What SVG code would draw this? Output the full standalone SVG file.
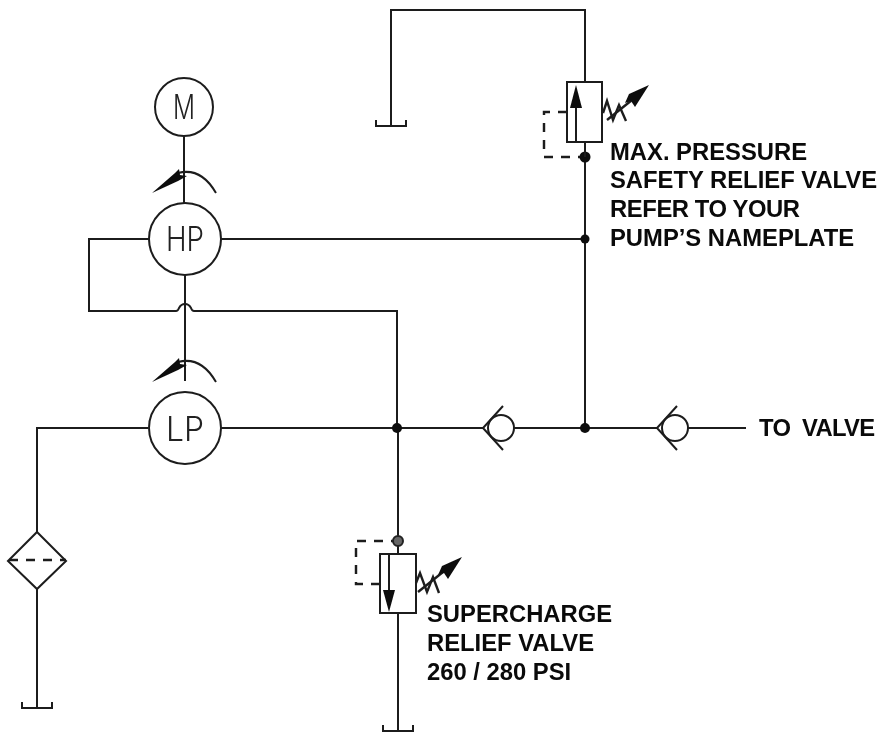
<svg xmlns="http://www.w3.org/2000/svg" width="882" height="734" viewBox="0 0 882 734">
<style>
.l{fill:none;stroke:#1c1c1c;stroke-width:2}
.z{fill:none;stroke:#1c1c1c;stroke-width:2.4}
.d{fill:none;stroke:#1c1c1c;stroke-width:2.4;stroke-dasharray:9 8}
.h{fill:#111;stroke:none}
.c{fill:#fff;stroke:#1c1c1c;stroke-width:2}
.s{font-family:"Inter","Liberation Sans",sans-serif;font-weight:300;font-size:34px;fill:#222;text-anchor:middle}
.t{font-family:"Liberation Sans",Arial,sans-serif;font-weight:700;font-size:23.8px;fill:#0a0a0a}
</style>
<defs>
<filter id="b" x="-5%" y="-5%" width="110%" height="110%"><feGaussianBlur stdDeviation="0.35"/></filter>
<g id="tank"><path class="l" d="M-15 -6V0H15V-6"/></g>
<g id="chk"><circle class="l" cx="0" cy="0" r="13"/><path class="l" d="M2 -22L-18 0L2 22"/></g>
<g id="rot"><path class="l" d="M-7 -2Q16 -8 31 18"/><path class="h" d="M-33 18L-10 -2L-6 -6L-5 0L2 1L-7 6Z"/></g>
</defs>
<g filter="url(#b)">
<g id="connectors">
<path class="l" d="M184 136V203"/>
<path class="l" d="M185 275V381"/>
<path class="l" d="M149 239H89V311H176Q178 311 179 308Q181 304 185 304Q189 304 191 308Q192 311 194 311H397V428"/>
<path class="l" d="M221 239H585"/>
<path class="l" d="M148 428H37V532"/>
<path class="l" d="M37 589V702"/>
<path class="l" d="M221 428H483"/>
<path class="l" d="M514 428H657"/>
<path class="l" d="M688 428H746"/>
<path class="l" d="M585 428V142"/>
<path class="l" d="M585 82V10H391V126"/>
<path class="l" d="M398 428V554"/>
<path class="l" d="M398 613V731"/>
</g>
<g id="motor"><circle class="c" cx="184" cy="107" r="29"/><text class="s" x="184" y="119" textLength="22" lengthAdjust="spacingAndGlyphs">M</text></g>
<g id="hp-pump"><circle class="c" cx="185" cy="239" r="36"/><text class="s" x="185" y="251" textLength="38" lengthAdjust="spacingAndGlyphs">HP</text><use href="#rot" transform="translate(185,175)"/></g>
<g id="lp-pump"><circle class="c" cx="185" cy="428" r="36"/><text class="s" x="185" y="441" textLength="38" lengthAdjust="spacingAndGlyphs">LP</text><use href="#rot" transform="translate(185,364)"/></g>
<g id="filter"><path class="c" d="M37 532L66 561L37 589L8 561Z"/><path class="d" d="M9 560H66" stroke-dasharray="13 8 17 7 12"/><use href="#tank" x="37" y="708"/><path class="l" d="M37 702V708"/></g>
<g id="check-1"><use href="#chk" transform="translate(501,428)"/></g>
<g id="check-2"><use href="#chk" transform="translate(675,428)"/></g>
<g id="junctions">
<circle class="h" cx="585" cy="239" r="4.5"/>
<circle class="h" cx="585" cy="428" r="5"/>
<circle class="h" cx="397" cy="428" r="5"/>
</g>
<g id="tank-top"><use href="#tank" x="391" y="126"/></g>
<g id="safety-valve">
<rect class="l" x="567" y="82" width="35" height="60"/>
<path class="l" d="M576 142V100"/><path class="h" d="M576 85L582 108H570Z"/>
<path class="d" d="M567 112H544V157H585"/>
<circle class="h" cx="585" cy="157" r="5.5"/><path class="l" d="M585 142V157"/>
<path class="z" d="M603 113L607 101L613 120L619 105L626 121"/>
<path class="z" d="M607 120L632 100"/><path class="h" d="M649 85L635 107L631 101L625 103L629 94Z"/>
</g>
<g id="supercharge-valve">
<rect class="l" x="380" y="554" width="36" height="59"/>
<path class="l" d="M389 554V595"/><path class="h" d="M389 612L383 590H395Z"/>
<path class="d" d="M380 584H356V541H393"/>
<circle cx="398" cy="541" r="5" fill="#666" stroke="#222" stroke-width="2"/>
<path class="z" d="M416 583L420 573L427 592L433 577L439 593"/>
<path class="z" d="M418 592L443 572"/><path class="h" d="M462 557L448 579L444 573L438 575L442 566Z"/>
<use href="#tank" x="398" y="731"/>
</g>
</g>
<g id="labels">
<text class="t" x="610" y="160">MAX. PRESSURE</text>
<text class="t" x="610" y="188">SAFETY RELIEF VALVE</text>
<text class="t" x="610" y="217" textLength="190">REFER TO YOUR</text>
<text class="t" x="610" y="246">PUMP’S NAMEPLATE</text>
<text class="t" x="759" y="436" xml:space="preserve" textLength="116">TO  VALVE</text>
<text class="t" x="427" y="622">SUPERCHARGE</text>
<text class="t" x="427" y="651">RELIEF VALVE</text>
<text class="t" x="427" y="680">260 / 280 PSI</text>
</g>
</svg>
